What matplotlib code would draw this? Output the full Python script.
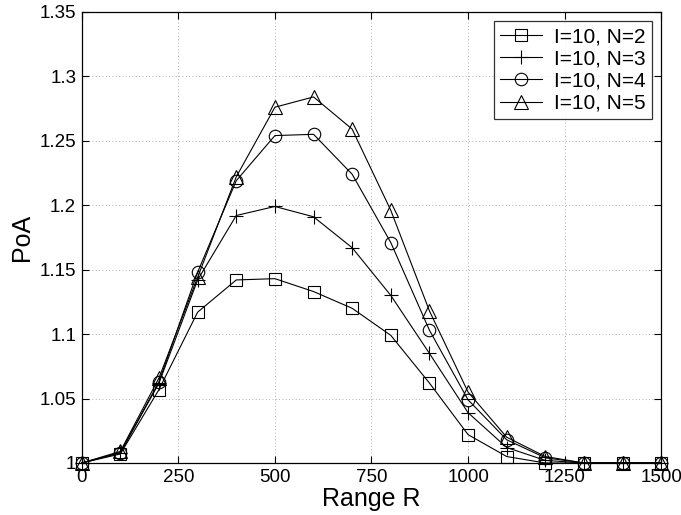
import matplotlib
matplotlib.use("Agg")
import matplotlib.pyplot as plt
from matplotlib.ticker import FuncFormatter

plt.rcParams['font.family'] = ['Liberation Sans', 'DejaVu Sans']

x = [0, 100, 200, 300, 400, 500, 600, 700, 800, 900, 1000, 1100, 1200, 1300, 1400, 1500]
n2 = [1.0, 1.007, 1.057, 1.117, 1.142, 1.143, 1.133, 1.120, 1.099, 1.062, 1.022, 1.005, 1.0, 1.0, 1.0, 1.0]
n3 = [1.0, 1.008, 1.062, 1.142, 1.192, 1.199, 1.191, 1.167, 1.130, 1.085, 1.039, 1.012, 1.002, 1.0, 1.0, 1.0]
n4 = [1.0, 1.008, 1.063, 1.148, 1.219, 1.254, 1.255, 1.224, 1.171, 1.103, 1.049, 1.018, 1.004, 1.0, 1.0, 1.0]
n5 = [1.0, 1.009, 1.066, 1.144, 1.222, 1.276, 1.284, 1.259, 1.196, 1.118, 1.055, 1.020, 1.005, 1.0, 1.0, 1.0]
labels = ['I=10, N=2', 'I=10, N=3', 'I=10, N=4', 'I=10, N=5']
xticks = [0, 250, 500, 750, 1000, 1250, 1500]
yticks = [1.0, 1.05, 1.1, 1.15, 1.2, 1.25, 1.3, 1.35]

fig = plt.figure(figsize=(6.81, 5.15), dpi=100)
ax = fig.add_axes([0.120, 0.101, 0.851, 0.876])

series = [n2, n3, n4, n5]
markers = ['s', '+', 'o', '^']
sizes = [8, 10, 9, 10]
for ys, m, ms, lab in zip(series, markers, sizes, labels):
    ax.plot(x, ys, color='black', linewidth=0.8, marker=m, markersize=ms,
            markerfacecolor='none', markeredgecolor='black', markeredgewidth=0.8,
            label=lab, clip_on=False)

ax.set_xlim(0, 1500)
ax.set_ylim(1.0, 1.35)
ax.set_xticks(xticks)
ax.set_yticks(yticks)
ax.yaxis.set_major_formatter(FuncFormatter(lambda v, p: '%g' % round(v, 2)))
ax.grid(True, linestyle=(0, (1, 3)), color='#999999', linewidth=0.6)
ax.tick_params(direction='in', length=5, top=True, right=True, labelsize=13.5, width=0.8, pad=4)
for s in ax.spines.values():
    s.set_linewidth(0.9)
ax.set_xlabel('Range R', fontsize=18, labelpad=1)
ax.set_ylabel('PoA', fontsize=18, labelpad=4)

leg = ax.legend(loc='upper right', fontsize=15, frameon=True, fancybox=False,
                edgecolor='black', handlelength=2.0, borderpad=0.3,
                labelspacing=0.15, handletextpad=0.6, borderaxespad=0.45)
leg.get_frame().set_linewidth(0.9)

fig.savefig('out.png', dpi=100)
